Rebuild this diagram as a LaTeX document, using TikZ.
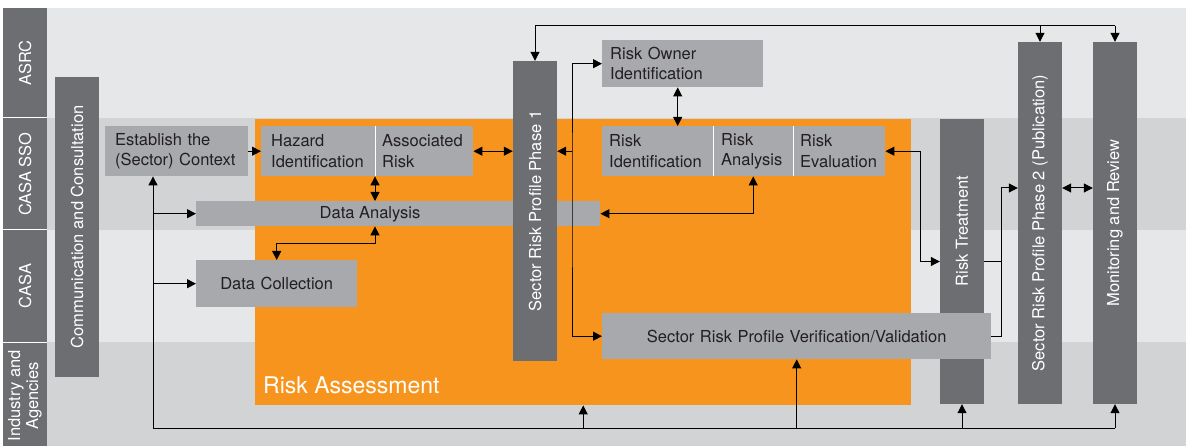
\documentclass[tikz,border=0pt]{standalone}
\usepackage{fontspec}
\setmainfont{TeX Gyre Heros}
\usetikzlibrary{arrows.meta}
\definecolor{bandlight}{HTML}{E6E7E8}
\definecolor{banddark}{HTML}{D1D3D4}
\definecolor{labelgrey}{HTML}{6D6E71}
\definecolor{boxgrey}{HTML}{A7A9AC}
\definecolor{raorange}{HTML}{F7941D}
\definecolor{txtdark}{HTML}{231F20}
\newcommand{\boxfont}{\fontsize{16.5}{20.5}\selectfont}
\tikzset{cell/.style 2 args={fill=boxgrey, text=txtdark, font=\boxfont, align=left,
           anchor=north west, inner xsep=7pt, inner ysep=0pt, text width=#1, minimum height=#2},
         bar/.style={fill=labelgrey, text=white, font=\boxfont, inner sep=0pt, minimum width=44pt},
         lanetxt/.style={text=white, font=\boxfont, inner sep=0pt},
         conn/.style={line width=1pt}}

\begin{document}
\begin{tikzpicture}[x=1pt,y=-1pt,>={Triangle[length=9pt,width=9pt]}]
\useasboundingbox (0,0) rectangle (1186,446);
\clip (0,0) rectangle (1186,446);
\fill[white] (0,0) rectangle (1186,446);
\foreach \ya/\yb/\col in {8/118/bandlight,118/230/banddark,230/342/bandlight,342/446/banddark}
  \fill[\col] (47,\ya) rectangle (1186,\yb);
\fill[labelgrey] (3,8) rectangle (47,446);
\foreach \y in {118,230,342}
  \draw[white, line width=1pt] (3,\y) -- (47,\y);
\foreach \y/\lab in {63/ASRC,174/CASA SSO,286/CASA}
  \node[lanetxt] at (25,\y) {\rotatebox{90}{\lab}};
\node[lanetxt, rotate=90, align=center, font=\fontsize{16.5}{18}\selectfont] (indlab) at (25,396) {Industry and\\Agencies};

\node[bar, minimum height=300pt] (comm) at (77,227) {\rotatebox{90}{Communication and Consultation}};
\node[cell={123pt}{50pt}, inner xsep=10pt] (ctx) at (105,126) {Establish the\\(Sector) Context};

\node[fill=raorange, anchor=north west, inner sep=0pt, minimum width=656pt, minimum height=286pt] (rass) at (255,119) {};
\node[text=white, font=\fontsize{23}{27}\selectfont, anchor=base west, inner sep=0pt] (rasslab) at (263,393) {Risk Assessment};

\node[cell={94pt}{50pt}, inner xsep=10pt] (haz) at (261,126) {Hazard\\Identification};
\node[cell={84pt}{50pt}] (arisk) at (375,126) {Associated\\Risk};
\node[cell={390pt}{25pt}] (dana) at (196,201) {};
\node[text=txtdark, font=\boxfont, inner sep=0pt] (danalab) at (370,214) {Data Analysis};
\node[cell={147pt}{47pt}, align=center] (dcol) at (196,260) {Data Collection};

\node[bar, minimum height=300pt] (ph1) at (535,211) {\rotatebox{90}{Sector Risk Profile Phase 1}};

\node[cell={145pt}{47pt}, inner xsep=8pt] (rown) at (602,40) {Risk Owner\\Identification};
\node[cell={97pt}{50pt}] (rid) at (602,126) {Risk\\Identification};
\node[cell={64pt}{50pt}, inner xsep=8pt] (ran) at (713,126) {Risk\\Analysis};
\node[cell={78pt}{50pt}] (rev) at (793,126) {Risk\\Evaluation};

\node[bar, minimum height=285pt] (rt) at (962,261.5) {};
\node[lanetxt] (rtlab) at (962,231) {\rotatebox{90}{Risk Treatment}};
\node[cell={375pt}{46pt}, align=center] (verif) at (602,313) {Sector Risk Profile Verification/Validation};

\node[bar, minimum height=362pt] (ph2) at (1040,223) {\rotatebox{90}{Sector Risk Profile Phase 2 (Publication)}};
\node[bar, minimum height=362pt] (mon) at (1115,223) {\rotatebox{90}{Monitoring and Review}};

\draw[white, line width=1pt] (arisk.north west) -- (arisk.south west);
\draw[white, line width=1pt] (ran.north west) -- (ran.south west);
\draw[white, line width=1pt] (rev.north west) -- (rev.south west);

\draw[conn,->] (ctx.east) -- (haz.west);
\draw[conn,<->] (arisk.east) -- (arisk.east -| ph1.west);
\draw[conn,<->] (arisk.south west) -- (arisk.south west |- dana.north);
\draw[conn,<->] (arisk.south west |- dana.south) -- ++(0,17) -| (dcol.north);

\coordinate (fb) at (153,428);
\draw[conn,->] (fb) -- (fb |- ctx.south);
\draw[conn,->] (fb |- dana.west) -- (dana.west);
\draw[conn,->] (fb |- dcol.west) -- (dcol.west);
\draw[conn] (fb) -- (fb -| mon.south);
\draw[conn,->] (fb -| rass.south) -- (rass.south);
\draw[conn,->] (fb -| verif.south) -- (verif.south);
\draw[conn,->] (fb -| rt.south) -- (rt.south);
\draw[conn,->] (fb -| mon.south) -- (mon.south);

\coordinate (tl) at (535,26);
\draw[conn,->] (tl) -- (ph1.north);
\draw[conn] (tl) -- (tl -| mon.north);
\draw[conn,->] (tl -| ph2.north) -- (ph2.north);
\draw[conn,->] (tl -| mon.north) -- (mon.north);

\coordinate (vl) at (572,200);
\draw[conn,<->] (rown.west) -| (vl) |- (verif.west);
\draw[conn,->] (vl |- arisk.east) -- (ph1.east |- arisk.east);
\draw[conn,<->] ([xshift=-5pt]rown.south) -- ([xshift=-5pt]rown.south |- rid.north);
\draw[conn,<->] (ran.south) |- (dana.east);

\draw[conn,<->] (rev.east) -- ++(35,0) |- (rt.west);
\coordinate (j2) at (1001,188);
\draw[conn,->] (rt.east) -| (j2) -- (j2 -| ph2.west);
\draw[conn] (verif.east) -| (j2);
\draw[conn,<->] (j2 -| ph2.east) -- (j2 -| mon.west);
\end{tikzpicture}
\end{document}
